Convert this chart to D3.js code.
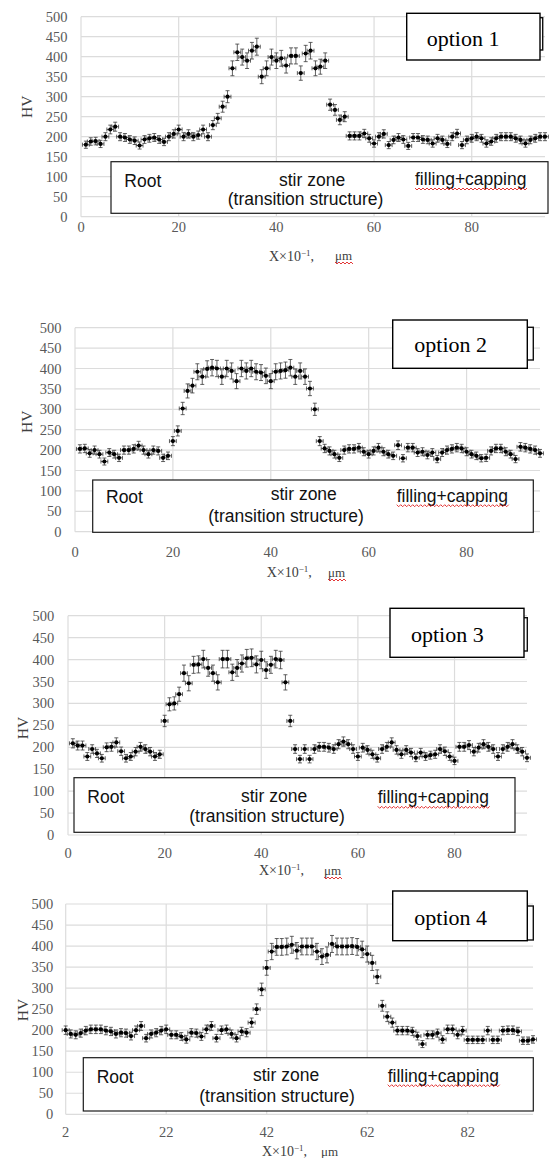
<!DOCTYPE html>
<html><head><meta charset="utf-8">
<script src="https://cdn.jsdelivr.net/npm/d3@7/dist/d3.min.js"></script>
<style>body{margin:0;background:#fff} svg{display:block}</style>
</head><body>
<svg id="c" width="550" height="1158"></svg>
<script>
// ---------- data ----------
const yTicks = [0, 50, 100, 150, 200, 250, 300, 350, 400, 450, 500];
const xTicksA = [0, 20, 40, 60, 80];
const xTicksB = [2, 22, 42, 62, 82];

// first x position of each series (one point per unit step)
const xStart = [1, 1, 1, 2];

const hv1 = [180,188,189,182,200,218,225,200,198,193,
             190,178,193,196,198,193,187,200,207,218,
             200,207,200,204,218,200,229,246,275,300,
             371,411,399,390,415,425,350,371,399,390,
             396,378,402,402,359,408,415,371,375,390,
             280,267,242,250,
             202,202,202,208,196,183,200,207,179,192,
             198,193,177,198,198,193,192,183,196,192,
             182,200,208,179,192,196,200,196,183,188,
             196,200,200,200,196,192,183,192,196,200,200];

const hv2 = [203,204,192,200,190,172,194,190,181,200,
             200,203,211,200,190,200,198,181,186,222,
             247,302,345,358,392,380,399,402,400,380,
             400,394,369,400,394,400,392,390,382,369,
             392,394,396,402,380,394,380,351,300,222,
             204,198,190,181,200,203,203,206,196,190,
             198,206,196,190,186,212,180,206,206,194,
             196,188,194,178,194,200,203,206,204,196,
             190,186,180,181,198,204,204,196,190,178,
             208,206,203,200,192];

const hv3 = [209,204,204,179,196,186,175,200,201,211,
             191,175,179,190,201,196,190,179,184,260,
             298,300,321,369,346,388,389,401,381,369,
             348,401,401,371,381,391,403,404,389,399,
             376,388,401,399,348,260,
             196,173,196,173,196,201,201,199,196,207,
             213,207,196,179,199,194,184,175,196,201,
             211,194,184,194,188,176,188,179,182,184,
             196,191,179,169,201,201,205,190,199,207,
             201,196,179,196,201,207,196,190,176];

const hv4 = [200,191,189,193,199,202,202,202,199,197,
             191,194,193,186,200,210,181,191,194,199,
             202,189,189,185,178,194,193,185,202,210,
             181,200,202,191,181,197,194,218,250,297,
             348,387,398,398,399,403,389,399,399,399,
             387,375,379,405,399,399,399,400,398,392,
             381,360,327,258,232,218,199,199,199,197,
             186,167,189,189,193,178,202,202,189,199,
             177,177,177,177,199,177,177,199,200,200,
             197,175,175,178];

const seriesList = [hv1, hv2, hv3, hv4];
const optionNames = ["option 1", "option 2", "option 3", "option 4"];
const zoneNames = ["Root", "stir zone", "(transition structure)", "filling+capping"];
const yTitle = "HV";
const xTitleMain = "X×10";
const xTitleSup = "−1";
const xTitleTail = ",";
const xTitleUnit = "μm";
const ERR_PCT = 0.05;   // vertical error bars: 5 % of value
const X_ERR = 0.7;      // horizontal error bars: fixed

// ---------- layout ----------
const layouts = [
  {x0:81, x1:545, xd:[0,95], yb:216.7, yt:16.7, ticks:xTicksA, yLabX:67.5, tickBase:232,
   hv:[26.7,106.7], xt:[269,261], um:[335,261],
   box:[111,161.7,548,213.3], root:[124.3,186.7], stir:[279,186], trans:[227.7,205], fill:[415,185],
   opt:[406.7,13.3,540,60], back:[542.7,17.7,50], optT:[426.7,45.7]},
  {x0:75, x1:540, xd:[0,95], yb:531.7, yt:327.7, ticks:xTicksA, yLabX:61.5, tickBase:557,
   hv:[26.7,421.7], xt:[266.7,576.7], um:[328,578],
   box:[92.7,480,533.3,532.3], root:[106,503.3], stir:[270.7,500], trans:[208.3,521.7], fill:[396.7,501.7],
   opt:[392.7,320,527.3,368.3], back:[533.3,327.3,360], optT:[414.3,352.3]},
  {x0:68, x1:527, xd:[0,95], yb:835, yt:615.7, ticks:xTicksA, yLabX:54.3, tickBase:858,
   hv:[22.5,728], xt:[259,875], um:[324,876],
   box:[74,777.7,515,832.3], root:[87.3,803.3], stir:[241,802], trans:[189.3,821.7], fill:[377.7,803.3],
   opt:[390,608.3,524,657.3], back:[527.3,617.7,651], optT:[411,641.7]},
  {x0:65.7, x1:533, xd:[2,95], yb:1114.3, yt:904, ticks:xTicksB, yLabX:53.3, tickBase:1136.5,
   hv:[23,1010], xt:[262,1156], um:[321,1157],
   box:[83.3,1057.7,533.3,1111], root:[96.7,1082.7], stir:[253,1081], trans:[199.3,1101.7], fill:[387.7,1081.7],
   opt:[392.7,891,527.3,940.7], back:[533.3,906,940], optT:[414.3,925]}
];

const svg = d3.select("#c");
const SERIF = "'Liberation Serif','Times New Roman',serif";
const SANS = "'Liberation Sans',Arial,sans-serif";

function squiggle(g, x0, x1, y) {
  const pts = [];
  let up = true;
  for (let x = x0; x <= x1; x += 2) { pts.push([x, y + (up ? -1 : 1)]); up = !up; }
  g.append("path").attr("d", d3.line()(pts)).attr("fill", "none")
    .attr("stroke", "#e02020").attr("stroke-width", 0.9);
}

layouts.forEach((L, k) => {
  const data = seriesList[k].map((v, i) => ({x: xStart[k] + i, y: v}));
  const xs = d3.scaleLinear().domain(L.xd).range([L.x0, L.x1]);
  const ys = d3.scaleLinear().domain([0, 500]).range([L.yb, L.yt]);
  const g = svg.append("g");

  // gridlines
  g.append("g").selectAll("line").data(yTicks).join("line")
    .attr("x1", L.x0).attr("x2", L.x1).attr("y1", d => ys(d)).attr("y2", d => ys(d))
    .attr("stroke", "#dcdcdc").attr("stroke-width", 1.2);
  g.append("g").selectAll("line").data(L.ticks).join("line")
    .attr("x1", d => xs(d)).attr("x2", d => xs(d)).attr("y1", ys(0)).attr("y2", ys(500))
    .attr("stroke", "#dcdcdc").attr("stroke-width", 1.2);

  // y tick labels
  g.append("g").selectAll("text").data(yTicks).join("text")
    .attr("x", L.yLabX).attr("y", d => ys(d)).attr("dy", "0.35em")
    .attr("text-anchor", "end").attr("font-family", SERIF).attr("font-size", 14.5)
    .attr("fill", "#595959").text(d => d);
  // x tick labels
  g.append("g").selectAll("text").data(L.ticks).join("text")
    .attr("x", d => xs(d)).attr("y", L.tickBase)
    .attr("text-anchor", "middle").attr("font-family", SERIF).attr("font-size", 14.5)
    .attr("fill", "#595959").text(d => d);

  // HV title
  g.append("text").attr("transform", `translate(${L.hv[0]},${L.hv[1]}) rotate(-90)`)
    .attr("text-anchor", "middle").attr("dy", "0.35em")
    .attr("font-family", SERIF).attr("font-size", 15.5).attr("fill", "#404040").text(yTitle);

  // x title
  const xt = g.append("text").attr("x", L.xt[0]).attr("y", L.xt[1])
    .attr("font-family", SERIF).attr("font-size", 14).attr("fill", "#404040");
  xt.append("tspan").text(xTitleMain);
  xt.append("tspan").attr("dy", -5).attr("font-size", 9).text(xTitleSup);
  xt.append("tspan").attr("dy", 5).text(xTitleTail);
  g.append("text").attr("x", L.um[0]).attr("y", L.um[1] - 1)
    .attr("font-family", SERIF).attr("font-size", 13).attr("fill", "#404040").text(xTitleUnit);
  squiggle(g, L.um[0], L.um[0] + 18, L.um[1] + 2);

  // error bars + markers
  const eb = g.append("g").attr("stroke", "#3a3a3a").attr("stroke-width", 0.8);
  data.forEach(d => {
    const cx = xs(d.x), cy = ys(d.y);
    const yh = ys(d.y * (1 + ERR_PCT)), yl = ys(d.y * (1 - ERR_PCT));
    const xl = xs(d.x - X_ERR), xh = xs(d.x + X_ERR);
    eb.append("line").attr("x1", cx).attr("x2", cx).attr("y1", yh).attr("y2", yl);
    eb.append("line").attr("x1", cx - 2).attr("x2", cx + 2).attr("y1", yh).attr("y2", yh);
    eb.append("line").attr("x1", cx - 2).attr("x2", cx + 2).attr("y1", yl).attr("y2", yl);
    eb.append("line").attr("x1", xl).attr("x2", xh).attr("y1", cy).attr("y2", cy);
    eb.append("line").attr("x1", xl).attr("x2", xl).attr("y1", cy - 2).attr("y2", cy + 2);
    eb.append("line").attr("x1", xh).attr("x2", xh).attr("y1", cy - 2).attr("y2", cy + 2);
  });
  g.append("g").selectAll("circle").data(data).join("circle")
    .attr("cx", d => xs(d.x)).attr("cy", d => ys(d.y)).attr("r", 2.1).attr("fill", "#000");

  // zone legend box
  const b = L.box;
  g.append("rect").attr("x", b[0]).attr("y", b[1]).attr("width", b[2] - b[0]).attr("height", b[3] - b[1])
    .attr("fill", "#fff").attr("stroke", "#1a1a1a").attr("stroke-width", 1.2);
  const zt = (p, s) => g.append("text").attr("x", p[0]).attr("y", p[1])
    .attr("font-family", SANS).attr("font-size", 17.5).attr("fill", "#111").text(s);
  zt(L.root, zoneNames[0]);
  zt(L.stir, zoneNames[1]);
  zt(L.trans, zoneNames[2]);
  zt(L.fill, zoneNames[3]);
  squiggle(g, L.fill[0], L.fill[0] + 112, L.fill[1] + 4);

  // option box (with offset back frame)
  const o = L.opt, bk = L.back;
  g.append("rect").attr("x", o[2] - 20).attr("y", bk[1]).attr("width", bk[0] - (o[2] - 20)).attr("height", bk[2] - bk[1])
    .attr("fill", "#fff").attr("stroke", "#111").attr("stroke-width", 1.4);
  g.append("rect").attr("x", o[0]).attr("y", o[1]).attr("width", o[2] - o[0]).attr("height", o[3] - o[1])
    .attr("fill", "#fff").attr("stroke", "#000").attr("stroke-width", 1.4);
  g.append("text").attr("x", L.optT[0]).attr("y", L.optT[1])
    .attr("font-family", SERIF).attr("font-size", 22).attr("fill", "#000").text(optionNames[k]);
});
</script>
</body></html>
